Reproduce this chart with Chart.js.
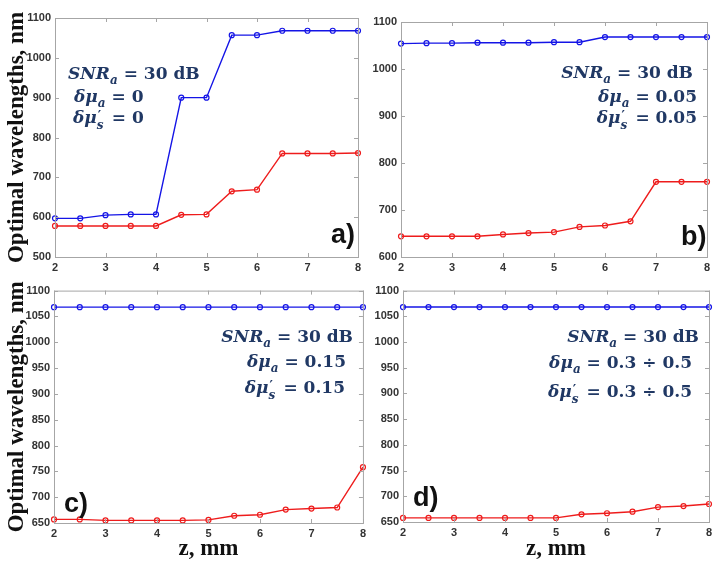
<!DOCTYPE html>
<html>
<head>
<meta charset="utf-8">
<script src="https://cdn.jsdelivr.net/npm/chart.js@4.4.1/dist/chart.umd.min.js"></script>
<style>
  body { margin: 0; background: #fff; }
  #wrap { position: relative; width: 722px; height: 566px; overflow: hidden; }
  .pane { position: absolute; }
  .note {
    position: absolute; color: #203864; font-family: "DejaVu Serif", serif;
    font-weight: bold; font-size: 17px; white-space: nowrap; line-height: 1;
  }
  .note i { font-style: italic; }
  .note sub { font-size: 12px; vertical-align: -5px; line-height: 0; }
  .ps { display: inline-block; position: relative; width: 9px; height: 10px; }
  .ps .pr { position: absolute; left: 1px; top: -4px; font-size: 13px; font-style: normal; }
  .ps .sb { position: absolute; left: 0; top: 6px; font-size: 12px; font-style: italic; }
  .lab { position: absolute; font-family: "Liberation Sans", Arial, sans-serif; font-weight: bold; font-size: 27px; color: #111; line-height: 1; }
</style>
</head>
<body>
<div id="wrap">
  <div class="pane" style="left:0;top:0;width:370px;height:280px"><canvas id="ca"></canvas></div>
  <div class="pane" style="left:360px;top:0;width:362px;height:280px"><canvas id="cb"></canvas></div>
  <div class="pane" style="left:0;top:280px;width:370px;height:286px"><canvas id="cc"></canvas></div>
  <div class="pane" style="left:360px;top:280px;width:362px;height:286px"><canvas id="cd"></canvas></div>

  <div class="note" style="left:68px;top:65px"><i>SNR</i><sub><i>a</i></sub> = 30 dB</div>
  <div class="note" style="left:74px;top:88px"><i>δμ</i><sub><i>a</i></sub> = 0</div>
  <div class="note" style="left:73px;top:109px"><i>δμ</i><span class="ps"><span class="pr">′</span><span class="sb">s</span></span> = 0</div>

  <div class="note" style="right:29px;top:64px"><i>SNR</i><sub><i>a</i></sub> = 30 dB</div>
  <div class="note" style="right:25px;top:88px"><i>δμ</i><sub><i>a</i></sub> = 0.05</div>
  <div class="note" style="right:25px;top:109px"><i>δμ</i><span class="ps"><span class="pr">′</span><span class="sb">s</span></span> = 0.05</div>

  <div class="note" style="right:369px;top:328px"><i>SNR</i><sub><i>a</i></sub> = 30 dB</div>
  <div class="note" style="right:376px;top:353px"><i>δμ</i><sub><i>a</i></sub> = 0.15</div>
  <div class="note" style="right:377px;top:379px"><i>δμ</i><span class="ps"><span class="pr">′</span><span class="sb">s</span></span> = 0.15</div>

  <div class="note" style="right:23px;top:328px"><i>SNR</i><sub><i>a</i></sub> = 30 dB</div>
  <div class="note" style="right:30px;top:354px"><i>δμ</i><sub><i>a</i></sub> = 0.3 ÷ 0.5</div>
  <div class="note" style="right:30px;top:383px"><i>δμ</i><span class="ps"><span class="pr">′</span><span class="sb">s</span></span> = 0.3 ÷ 0.5</div>

  <div class="lab" style="left:331px;top:221px">a)</div>
  <div class="lab" style="left:681px;top:223px">b)</div>
  <div class="lab" style="left:64px;top:490px">c)</div>
  <div class="lab" style="left:413px;top:484px">d)</div>
</div>
<script>
// z, mm
const zValues = [2, 2.5, 3, 3.5, 4, 4.5, 5, 5.5, 6, 6.5, 7, 7.5, 8];

// panel a) dmu = 0
const blueA = [597, 597, 605, 607, 607, 900, 900, 1057, 1057, 1068, 1068, 1068, 1068];
const redA  = [578, 578, 578, 578, 578, 606, 607, 665, 669, 760, 760, 760, 761];

// panel b) dmu = 0.05
const blueB = [1054, 1055, 1055, 1056, 1056, 1056, 1057, 1057, 1068, 1068, 1068, 1068, 1068];
const redB  = [644, 644, 644, 644, 648, 651, 653, 664, 667, 676, 760, 760, 760];

// panel c) dmu = 0.15
const blueC = [1068, 1068, 1068, 1068, 1068, 1068, 1068, 1068, 1068, 1068, 1068, 1068, 1068];
const redC  = [657, 657, 655, 655, 655, 655, 656, 664, 666, 676, 678, 680, 758];

// panel d) dmu = 0.3 .. 0.5
const blueD = [1068, 1068, 1068, 1068, 1068, 1068, 1068, 1068, 1068, 1068, 1068, 1068, 1068];
const redD  = [658, 658, 658, 658, 658, 658, 658, 665, 667, 670, 679, 681, 685];

const xTicks = [2, 3, 4, 5, 6, 7, 8];

const tickFont = { family: "Liberation Sans, Arial, sans-serif", weight: "bold", size: 11 };
const titleFont = { family: "Liberation Serif, Times New Roman, serif", weight: "bold", size: 23 };
const boxColor = "#a6a6a6";

// MATLAB-like box with inward ticks on all four sides
const boxPlugin = {
  id: "box",
  afterDraw(chart) {
    const { ctx, chartArea: a, scales } = chart;
    ctx.save();
    ctx.strokeStyle = boxColor;
    ctx.lineWidth = 1;
    ctx.strokeRect(a.left + 0.5, a.top + 0.5, a.right - a.left, a.bottom - a.top);
    ctx.beginPath();
    scales.x.ticks.forEach(t => {
      const px = Math.round(scales.x.getPixelForValue(t.value)) + 0.5;
      ctx.moveTo(px, a.bottom); ctx.lineTo(px, a.bottom - 4);
      ctx.moveTo(px, a.top); ctx.lineTo(px, a.top + 4);
    });
    scales.y.ticks.forEach(t => {
      const py = Math.round(scales.y.getPixelForValue(t.value)) + 0.5;
      ctx.moveTo(a.left, py); ctx.lineTo(a.left + 4, py);
      ctx.moveTo(a.right, py); ctx.lineTo(a.right - 4, py);
    });
    ctx.stroke();
    ctx.restore();
  }
};

function series(vals, color) {
  return {
    data: zValues.map((z, i) => ({ x: z, y: vals[i] })),
    borderColor: color,
    backgroundColor: "rgba(0,0,0,0)",
    borderWidth: 1.4,
    pointRadius: 2.5,
    pointBorderWidth: 1.2,
    pointBorderColor: color,
    pointBackgroundColor: "rgba(0,0,0,0)",
    tension: 0,
    clip: false,
  };
}

function makePanel(id, blue, red, cfg) {
  new Chart(document.getElementById(id), {
    type: "line",
    data: { datasets: [series(blue, "#1414e6"), series(red, "#ee1c1c")] },
    plugins: [boxPlugin],
    options: {
      responsive: true,
      maintainAspectRatio: false,
      animation: false,
      events: [],
      layout: { padding: { top: cfg.top, right: cfg.right, left: 0, bottom: 0 } },
      plugins: { legend: { display: false }, tooltip: { enabled: false } },
      scales: {
        x: {
          type: "linear", min: 2, max: 8,
          afterBuildTicks: s => { s.ticks = xTicks.map(v => ({ value: v })); },
          afterFit: s => { s.height = cfg.xh; },
          grid: { display: false, drawTicks: false },
          border: { display: false },
          ticks: { font: tickFont, color: "#333", padding: 4, maxRotation: 0, callback: v => String(v) },
          title: { display: !!cfg.xTitle, text: cfg.xTitle || "", font: titleFont, color: "#111", padding: 3 },
        },
        y: {
          min: cfg.yMin, max: cfg.yMax,
          afterFit: s => { s.width = cfg.yw; },
          grid: { display: false, drawTicks: false },
          border: { display: false },
          ticks: { stepSize: cfg.step, font: tickFont, color: "#333", padding: 4, callback: v => String(v) },
          title: { display: !!cfg.yTitle, text: cfg.yTitle || "", font: titleFont, color: "#111", padding: 3 },
        },
      },
    },
  });
}

const yLabel = "Optimal wavelengths, nm";
makePanel("ca", blueA, redA, { yMin: 500, yMax: 1100, step: 100, yw: 55, xh: 23, top: 18, right: 12, yTitle: yLabel });
makePanel("cb", blueB, redB, { yMin: 600, yMax: 1100, step: 100, yw: 41, xh: 23, top: 22, right: 15 });
makePanel("cc", blueC, redC, { yMin: 650, yMax: 1100, step: 50, yw: 54, xh: 43, top: 5, right: 3, yTitle: yLabel, xTitle: "z, mm" });
makePanel("cd", blueD, redD, { yMin: 650, yMax: 1100, step: 50, yw: 43, xh: 44, top: 6, right: 13, xTitle: "z, mm" });
</script>
</body>
</html>
